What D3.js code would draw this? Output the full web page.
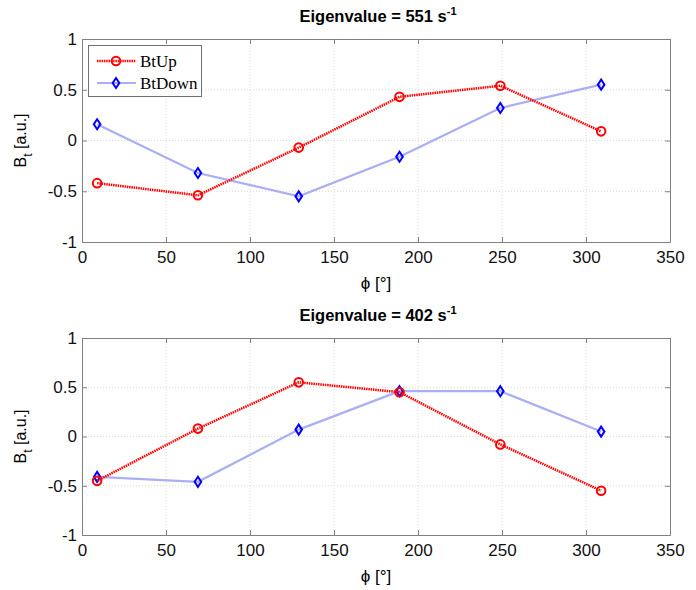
<!DOCTYPE html>
<html>
<head>
<meta charset="utf-8">
<script src="https://cdn.jsdelivr.net/npm/d3@7"></script>
<style>
  body { margin: 0; background: #fff; }
  svg { display: block; }
</style>
</head>
<body>
<script>
// angles (deg)
const phi = [9, 69, 129, 189, 249, 309];

// eigenvalue 551
const up551 = [-0.42, -0.54, -0.07, 0.43, 0.54, 0.09];
const down551 = [0.16, -0.32, -0.55, -0.16, 0.32, 0.55];

// eigenvalue 402
const up402 = [-0.45, 0.08, 0.55, 0.45, -0.08, -0.55];
const down402 = [-0.41, -0.46, 0.07, 0.46, 0.46, 0.05];

const xTicks = [0, 50, 100, 150, 200, 250, 300, 350];
const yTicks = [-1, -0.5, 0, 0.5, 1];

const width = 696, height = 590;

const svg = d3.select("body").append("svg")
    .attr("width", width)
    .attr("height", height);

const panels = [
  {ev: "551", up: up551, down: down551, top: 39, bottom: 242, legend: true},
  {ev: "402", up: up402, down: down402, top: 338, bottom: 535, legend: false}
];

const left = 82, right = 670;
const font = "'Liberation Sans', Arial, sans-serif";
const fmt = d => String(d); // plain hyphen minus like matlab

panels.forEach(p => {
  const x = d3.scaleLinear().domain([0, 350]).range([left, right]);
  const y = d3.scaleLinear().domain([-1, 1]).range([p.bottom, p.top]);
  const g = svg.append("g");

  // grid
  g.append("g").selectAll("line")
    .data(xTicks.slice(1, -1))
    .join("line")
      .attr("x1", d => x(d)).attr("x2", d => x(d))
      .attr("y1", p.top).attr("y2", p.bottom)
      .attr("stroke", "#d9d9d9").attr("stroke-dasharray", "1,2");
  g.append("g").selectAll("line")
    .data(yTicks.slice(1, -1))
    .join("line")
      .attr("y1", d => y(d)).attr("y2", d => y(d))
      .attr("x1", left).attr("x2", right)
      .attr("stroke", "#d9d9d9").attr("stroke-dasharray", "1,2");

  // axes (ticks inward)
  const xa = g.append("g")
      .attr("transform", `translate(0,${p.bottom})`)
      .call(d3.axisBottom(x).tickValues(xTicks).tickSizeInner(-5).tickSizeOuter(0).tickPadding(9).tickFormat(fmt));
  const xt = g.append("g")
      .attr("transform", `translate(0,${p.top})`)
      .call(d3.axisTop(x).tickValues(xTicks).tickSizeInner(-5).tickSizeOuter(0).tickFormat(""));
  const ya = g.append("g")
      .attr("transform", `translate(${left},0)`)
      .call(d3.axisLeft(y).tickValues(yTicks).tickSizeInner(-5).tickSizeOuter(0).tickPadding(5).tickFormat(fmt));
  const yr = g.append("g")
      .attr("transform", `translate(${right},0)`)
      .call(d3.axisRight(y).tickValues(yTicks).tickSizeInner(-5).tickSizeOuter(0).tickFormat(""));
  [xa, xt, ya, yr].forEach(a => {
    a.selectAll("path").attr("stroke", "#808080");
    a.selectAll("line").attr("stroke", "#808080");
    a.selectAll("text").attr("fill", "#111").style("font", `17px ${font}`);
  });

  // title
  const t = g.append("text")
      .attr("x", (left + right) / 2 + 2).attr("y", p.top - 17)
      .attr("text-anchor", "middle")
      .style("font", `bold 16.5px ${font}`);
  t.append("tspan").text(`Eigenvalue = ${p.ev} s`);
  t.append("tspan").attr("dy", -7).style("font-size", "11px").text("-1");

  // x label
  g.append("text")
      .attr("x", (left + right) / 2).attr("y", p.bottom + 47)
      .attr("text-anchor", "middle")
      .style("font", `17px ${font}`)
      .text("ϕ [°]");

  // y label
  const yl = g.append("text")
      .attr("transform", `translate(26,${(p.top + p.bottom) / 2}) rotate(-90)`)
      .attr("text-anchor", "middle")
      .style("font", `16px ${font}`);
  yl.append("tspan").text("B");
  yl.append("tspan").attr("dy", 6).style("font-size", "12px").text("t");
  yl.append("tspan").attr("dy", -6).text(" [a.u.]");

  const line = d3.line().x((d, i) => x(phi[i])).y(d => y(d));

  // BtDown: light blue line, blue diamonds
  g.append("path").datum(p.down)
      .attr("d", line).attr("fill", "none")
      .attr("stroke", "#a9aef5").attr("stroke-width", 2.2);
  g.append("g").selectAll("path")
    .data(p.down)
    .join("path")
      .attr("transform", (d, i) => `translate(${x(phi[i])},${y(d)})`)
      .attr("d", "M0,-5L3.3,0L0,5L-3.3,0Z")
      .attr("fill", "none").attr("stroke", "#0000ff").attr("stroke-width", 2);

  // BtUp: red dotted line, red circles
  g.append("path").datum(p.up)
      .attr("d", line).attr("fill", "none")
      .attr("stroke", "#ff0000").attr("stroke-width", 2.5)
      .attr("stroke-dasharray", "1.5,0.8");
  g.append("g").selectAll("circle")
    .data(p.up)
    .join("circle")
      .attr("cx", (d, i) => x(phi[i])).attr("cy", d => y(d))
      .attr("r", 4.3)
      .attr("fill", "none").attr("stroke", "#ff0000").attr("stroke-width", 2);

  if (p.legend) {
    const lg = g.append("g");
    lg.append("rect")
        .attr("x", 88.5).attr("y", 45.5).attr("width", 113).attr("height", 51)
        .attr("fill", "#fff").attr("stroke", "#707070");
    const items = [
      {name: "BtUp", yy: 61, up: true},
      {name: "BtDown", yy: 83, up: false}
    ];
    items.forEach(it => {
      lg.append("line")
          .attr("x1", 97).attr("x2", 136).attr("y1", it.yy).attr("y2", it.yy)
          .attr("stroke", it.up ? "#ff0000" : "#a9aef5")
          .attr("stroke-width", it.up ? 2.5 : 2.2)
          .attr("stroke-dasharray", it.up ? "1.5,0.8" : null);
      if (it.up) {
        lg.append("circle").attr("cx", 116).attr("cy", it.yy).attr("r", 4.3)
          .attr("fill", "none").attr("stroke", "#ff0000").attr("stroke-width", 2);
      } else {
        lg.append("path").attr("transform", `translate(116,${it.yy})`)
          .attr("d", "M0,-5L3.3,0L0,5L-3.3,0Z")
          .attr("fill", "none").attr("stroke", "#0000ff").attr("stroke-width", 2);
      }
      lg.append("text")
          .attr("x", 140).attr("y", it.yy).attr("dy", "0.35em")
          .style("font", "17px 'Liberation Serif', 'Times New Roman', serif")
          .text(it.name);
    });
  }
});
</script>
</body>
</html>
